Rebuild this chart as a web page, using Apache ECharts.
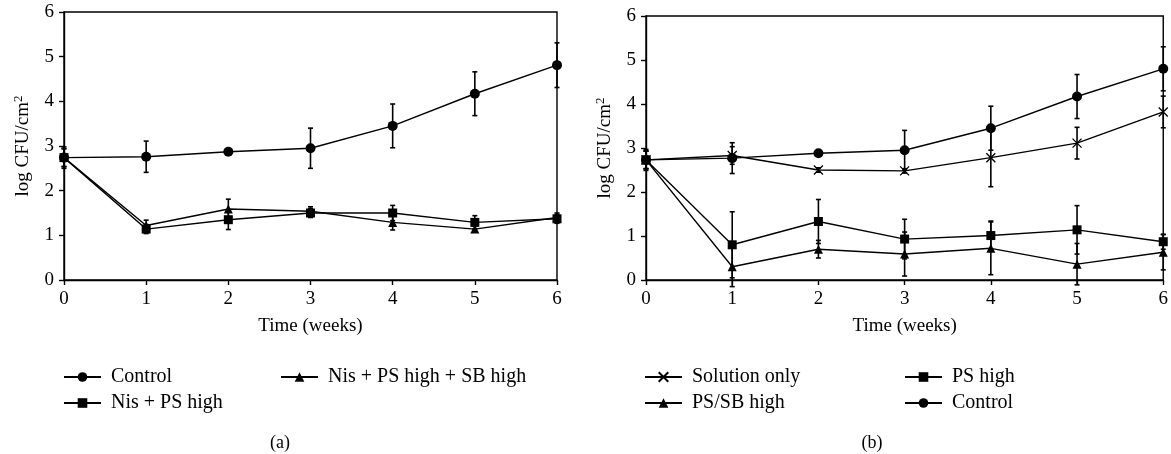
<!DOCTYPE html>
<html>

<head>
    <meta charset="utf-8" />
    <script src="https://cdn.jsdelivr.net/npm/echarts@6/dist/echarts.min.js"></script>
    <style>
        body { margin: 0; background: #fff; }
    </style>
</head>

<body>
    <div id="main" style="width: 1171px; height: 454px;"></div>
    <script type="text/javascript">
        // weeks on the x axis
        var weeks = [0, 1, 2, 3, 4, 5, 6];

        // panel (a)
        var controlA = [2.74, 2.76, 2.87, 2.95, 3.45, 4.17, 4.81];
        var controlAErr = [0.24, 0.35, 0.05, 0.45, 0.49, 0.49, 0.5];
        var nisPsA = [2.74, 1.14, 1.35, 1.50, 1.50, 1.29, 1.37];
        var nisPsAErr = [0.2, 0.1, 0.22, 0.1, 0.17, 0.15, 0.1];
        var nisPsSbA = [2.74, 1.22, 1.59, 1.54, 1.29, 1.14, 1.40];
        var nisPsSbAErr = [0.2, 0.12, 0.22, 0.1, 0.17, 0.07, 0.1];

        // panel (b)
        var solutionB = [2.73, 2.83, 2.50, 2.48, 2.78, 3.11, 3.82];
        var solutionBErr = [0.2, 0.2, 0.05, 0.05, 0.66, 0.36, 0.36];
        var psHighB = [2.73, 0.80, 1.33, 0.93, 1.01, 1.14, 0.87];
        var psHighBErr = [0.2, 0.75, 0.5, 0.45, 0.33, 0.55, 0.17];
        var psSbB = [2.73, 0.30, 0.70, 0.59, 0.72, 0.36, 0.63];
        var psSbBErr = [0.2, 0.45, 0.2, 0.5, 0.6, 0.47, 0.4];
        var controlB = [2.73, 2.77, 2.88, 2.95, 3.45, 4.17, 4.80];
        var controlBErr = [0.24, 0.35, 0.05, 0.45, 0.5, 0.5, 0.5];

        var yTicks = [0, 1, 2, 3, 4, 5, 6];

        var FONT = 'Liberation Serif';
        var crossPath = 'path://M0,0L10,10M10,0L0,10';

        var myChart = echarts.init(document.getElementById('main'));

        function pts(vals) {
            return weeks.map(function (w, i) { return [w, vals[i]]; });
        }

        function errData(vals, errs) {
            return weeks.map(function (w, i) { return [w, vals[i] - errs[i], vals[i] + errs[i]]; });
        }

        function renderErr(params, api) {
            var x = api.value(0);
            var lo = api.coord([x, api.value(1)]);
            var hi = api.coord([x, api.value(2)]);
            var cap = 2.5;
            var style = { stroke: '#000', lineWidth: 1.6 };
            return {
                type: 'group',
                children: [
                    { type: 'line', shape: { x1: lo[0], y1: lo[1], x2: hi[0], y2: hi[1] }, style: style },
                    { type: 'line', shape: { x1: lo[0] - cap, y1: lo[1], x2: lo[0] + cap, y2: lo[1] }, style: style },
                    { type: 'line', shape: { x1: hi[0] - cap, y1: hi[1], x2: hi[0] + cap, y2: hi[1] }, style: style }
                ]
            };
        }

        function lineSeries(name, vals, idx, symbol, size) {
            var s = {
                name: name,
                type: 'line',
                xAxisIndex: idx,
                yAxisIndex: idx,
                data: pts(vals),
                symbol: symbol,
                symbolSize: size,
                showAllSymbol: true,
                color: '#000',
                lineStyle: { color: '#000', width: 1.4 },
                itemStyle: { color: '#000' },
                z: 3,
                animation: false
            };
            if (symbol === crossPath) {
                s.itemStyle = { color: 'none', borderColor: '#000', borderWidth: 1.3 };
            }
            return s;
        }

        function errSeries(name, vals, errs, idx) {
            return {
                name: name + ' error',
                type: 'custom',
                xAxisIndex: idx,
                yAxisIndex: idx,
                color: '#000',
                data: errData(vals, errs),
                renderItem: renderErr,
                encode: { x: 0, y: [1, 2] },
                z: 2,
                silent: true,
                animation: false
            };
        }

        function xAxisFor(idx) {
            return {
                type: 'value',
                gridIndex: idx,
                min: 0,
                max: 6,
                interval: 1,
                name: 'Time (weeks)',
                nameLocation: 'middle',
                nameGap: 37,
                nameTextStyle: { fontFamily: FONT, fontSize: 19, color: '#000' },
                axisLine: { lineStyle: { color: '#000', width: 1.4 } },
                axisTick: { length: 5, lineStyle: { color: '#000', width: 1.4 } },
                axisLabel: { fontFamily: FONT, fontSize: 19, color: '#000', margin: 10 },
                splitLine: { show: false }
            };
        }

        function yAxisFor(idx) {
            return {
                type: 'value',
                gridIndex: idx,
                min: yTicks[0],
                max: yTicks[yTicks.length - 1],
                interval: 1,
                name: '{a|log CFU/cm}{s|2}',
                nameLocation: 'middle',
                nameGap: 30,
                nameTextStyle: {
                    rich: {
                        a: { fontFamily: FONT, fontSize: 19, color: '#000', lineHeight: 22 },
                        s: { fontFamily: FONT, fontSize: 13, color: '#000', verticalAlign: 'top', lineHeight: 22, padding: [0, 0, 10, 0] }
                    }
                },
                axisLine: { show: true, lineStyle: { color: '#000', width: 1.4 } },
                axisTick: { show: true, length: 5, lineStyle: { color: '#000', width: 1.4 } },
                axisLabel: { fontFamily: FONT, fontSize: 19, color: '#000', margin: 10 },
                splitLine: { show: false }
            };
        }

        function legendFor(names, left) {
            return {
                data: names,
                orient: 'vertical',
                left: left,
                top: 367,
                padding: 0,
                itemGap: 6,
                itemWidth: 37,
                itemHeight: 12,
                textStyle: { fontFamily: FONT, fontSize: 20, color: '#000', padding: [0, 0, 0, 5] },
                selectedMode: false
            };
        }

        var option = {
            backgroundColor: '#fff',
            animation: false,
            grid: [
                { left: 64, top: 12, width: 493, height: 268, show: true, borderColor: '#000', borderWidth: 1.4 },
                { left: 646, top: 16, width: 520, height: 264, show: true, borderColor: '#000', borderWidth: 1.4 }
            ],
            xAxis: [xAxisFor(0), xAxisFor(1)],
            yAxis: [yAxisFor(0), yAxisFor(1)],
            legend: [
                legendFor(['Control', 'Nis + PS high'], 63),
                legendFor(['Nis + PS high + SB high'], 280),
                legendFor(['Solution only', 'PS/SB high'], 644),
                legendFor(['PS high', 'Control '], 904)
            ],
            graphic: [
                { type: 'text', x: 280, y: 443, style: { text: '(a)', font: '18px "Liberation Serif"', fill: '#000', align: 'center', verticalAlign: 'middle' } },
                { type: 'text', x: 872, y: 443, style: { text: '(b)', font: '18px "Liberation Serif"', fill: '#000', align: 'center', verticalAlign: 'middle' } }
            ],
            series: [
                lineSeries('Control', controlA, 0, 'circle', 10),
                lineSeries('Nis + PS high', nisPsA, 0, 'rect', 9),
                lineSeries('Nis + PS high + SB high', nisPsSbA, 0, 'triangle', 9),
                errSeries('Control', controlA, controlAErr, 0),
                errSeries('Nis + PS high', nisPsA, nisPsAErr, 0),
                errSeries('Nis + PS high + SB high', nisPsSbA, nisPsSbAErr, 0),

                lineSeries('Solution only', solutionB, 1, crossPath, 9),
                lineSeries('PS high', psHighB, 1, 'rect', 9),
                lineSeries('PS/SB high', psSbB, 1, 'triangle', 9),
                lineSeries('Control ', controlB, 1, 'circle', 10),
                errSeries('Solution only', solutionB, solutionBErr, 1),
                errSeries('PS high', psHighB, psHighBErr, 1),
                errSeries('PS/SB high', psSbB, psSbBErr, 1),
                errSeries('Control ', controlB, controlBErr, 1)
            ]
        };

        myChart.setOption(option);
    </script>
</body>

</html>
